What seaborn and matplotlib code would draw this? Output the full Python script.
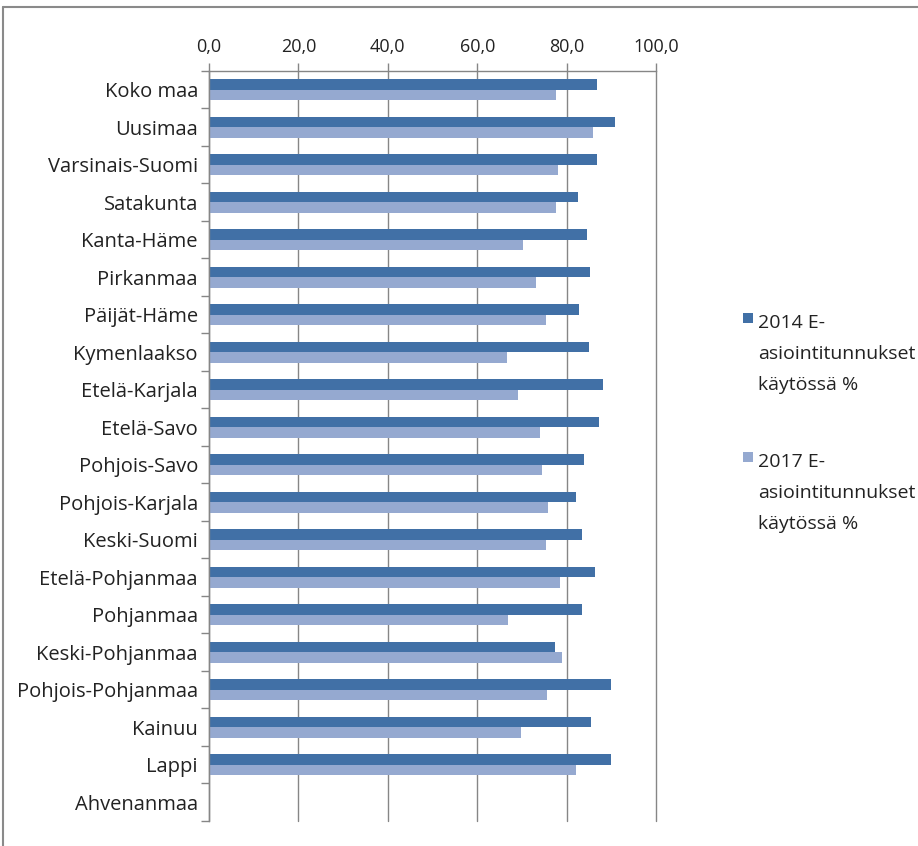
import matplotlib
matplotlib.use("Agg")
import matplotlib.pyplot as plt
from matplotlib.lines import Line2D
from matplotlib.patches import Rectangle
from matplotlib.ticker import FuncFormatter, FixedLocator
import numpy as np
import pandas as pd
import seaborn as sns

regions = [
    "Koko maa", "Uusimaa", "Varsinais-Suomi", "Satakunta", "Kanta-Häme",
    "Pirkanmaa", "Päijät-Häme", "Kymenlaakso", "Etelä-Karjala", "Etelä-Savo",
    "Pohjois-Savo", "Pohjois-Karjala", "Keski-Suomi", "Etelä-Pohjanmaa",
    "Pohjanmaa", "Keski-Pohjanmaa", "Pohjois-Pohjanmaa", "Kainuu", "Lappi",
    "Ahvenanmaa",
]
values_2014 = [86.9, 90.8, 86.9, 82.5, 84.6, 85.2, 82.8, 84.9, 88.1, 87.2,
               84.0, 82.2, 83.4, 86.4, 83.4, 77.4, 89.9, 85.5, 89.9, np.nan]
values_2017 = [77.6, 86.0, 78.0, 77.6, 70.2, 73.2, 75.3, 66.7, 69.1, 74.1,
               74.4, 75.9, 75.3, 78.6, 67.0, 78.9, 75.6, 69.7, 82.2, np.nan]
series_labels = ["2014 E-\nasiointitunnukset\nkäytössä %",
                 "2017 E-\nasiointitunnukset\nkäytössä %"]
x_ticks = [0, 20, 40, 60, 80, 100]

dark = "#4170a6"
light = "#95a9d0"
axis_col = "#868686"
text_col = "#222222"

sns.set_theme(style="white")
font = ["Open Sans", "DejaVu Sans"]
plt.rcParams["font.family"] = font

df = pd.DataFrame({
    "region": regions * 2,
    "value": values_2014 + values_2017,
    "series": [series_labels[0]] * len(regions) + [series_labels[1]] * len(regions),
})

W, H = 918, 846
fig = plt.figure(figsize=(W / 100, H / 100), dpi=100)
ax = fig.add_axes([209 / W, 25 / H, 447 / W, 750 / H])

sns.barplot(data=df.dropna(), y="region", x="value", hue="series",
            order=regions, hue_order=series_labels, orient="h",
            palette=[dark, light], width=0.572, errorbar=None,
            saturation=1, ax=ax, legend=False, linewidth=0)

ax.set_xlim(0, 100)
ax.set_ylim(len(regions) - 0.5, -0.5)
ax.set_xlabel("")
ax.set_ylabel("")

# value axis on top with comma decimals
ax.xaxis.tick_top()
ax.xaxis.set_major_locator(FixedLocator(x_ticks))
ax.xaxis.set_major_formatter(FuncFormatter(lambda v, _: f"{v:.1f}".replace(".", ",")))
ax.tick_params(axis="x", top=True, bottom=False, direction="out", length=6,
               width=1, color=axis_col, labelsize=13, pad=5, labelcolor=text_col)
ax.grid(axis="x", color=axis_col, linewidth=1)
for gl in ax.get_xgridlines():
    gl.set_clip_on(False)
ax.set_axisbelow(True)

# category ticks sit between categories
ax.yaxis.set_major_locator(FixedLocator(range(len(regions))))
ax.set_yticklabels(regions)
ax.yaxis.set_minor_locator(FixedLocator(np.arange(-0.5, len(regions), 1.0)))
ax.tick_params(axis="y", which="major", length=0, labelsize=14.5, pad=8,
               labelcolor=text_col)
ax.tick_params(axis="y", which="minor", left=True, length=6, width=1,
               color=axis_col, direction="out")

for side in ["right", "bottom"]:
    ax.spines[side].set_visible(False)
for side in ["top", "left"]:
    ax.spines[side].set_color(axis_col)
    ax.spines[side].set_linewidth(1)

for lbl in ax.get_xticklabels() + ax.get_yticklabels():
    lbl.set_fontfamily(font)

# legend: square key aligned with the first line of a wrapped label
legend_tops = [313, 452]          # px from top of figure
line_step = 31
for colour, label, top in zip([dark, light], series_labels, legend_tops):
    fig.add_artist(Rectangle((743 / W, 1 - (top + 10) / H), 10 / W, 10 / H,
                             transform=fig.transFigure, facecolor=colour,
                             edgecolor="none"))
    for i, line in enumerate(label.split("\n")):
        baseline = top + 15 + i * line_step
        fig.text(758 / W, 1 - baseline / H, line, ha="left", va="baseline",
                 fontsize=14, color=text_col, fontfamily=font)

# outer frame around the chart area
fig.add_artist(Line2D([3 / W, 3 / W], [0, 1 - 7 / H], transform=fig.transFigure,
                      color="#8a8a8a", linewidth=1.5))
fig.add_artist(Line2D([3 / W, 1], [1 - 7 / H, 1 - 7 / H], transform=fig.transFigure,
                      color="#8a8a8a", linewidth=1.5))

fig.savefig("out.png", dpi=100)
